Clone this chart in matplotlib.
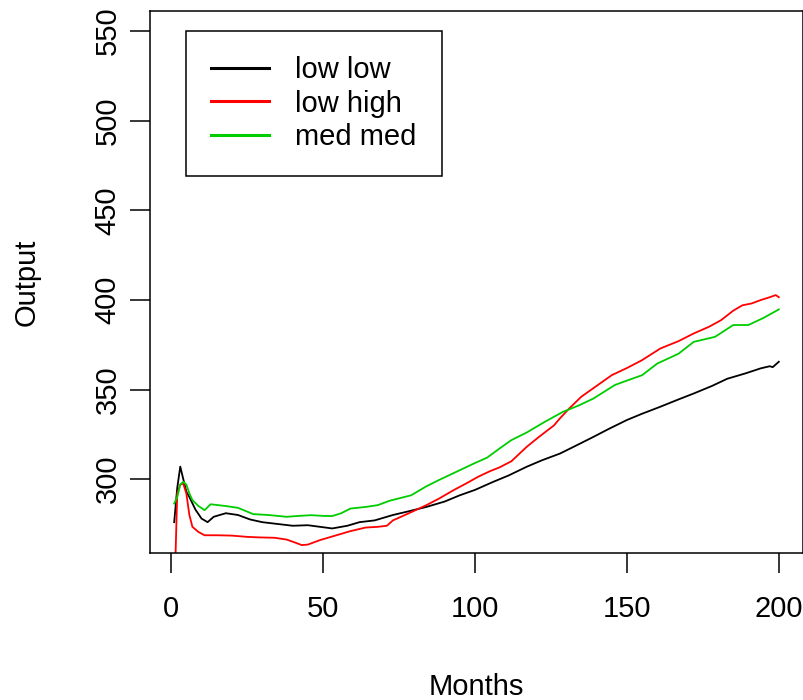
import matplotlib
matplotlib.use('Agg')
import matplotlib.pyplot as plt

plt.rcParams['font.family'] = ['Liberation Sans', 'DejaVu Sans']

# values (month, output)
low_low_month = [1, 2, 3, 4, 5, 6, 8, 10, 12, 14, 18, 22, 26, 30, 35, 40, 45, 49, 53,
                 58, 62, 67, 73, 78, 84, 90, 95, 100, 106, 111, 117, 122, 128, 133,
                 139, 144, 150, 155, 161, 167, 172, 178, 183, 189, 194, 197, 198, 200]
low_low = [276, 295, 307, 300, 293, 290, 283, 278, 276, 279, 281, 280, 277.5, 276,
           275, 274, 274.3, 273.4, 272.5, 274, 276, 277, 280, 282, 284.5, 287.5, 291,
           294, 298.5, 302, 306.9, 310.5, 314.3, 318.5, 323.6, 328, 333, 336.5, 340.4,
           344.5, 347.8, 352, 356, 359, 361.8, 363, 362.5, 365.5]

low_high_month = [1, 2, 3, 4, 5, 6, 7, 9, 11, 15, 20, 25, 29, 34, 38, 41, 43, 45, 49,
                  54, 59, 64, 68, 71, 73, 78, 84, 88, 93, 97, 101, 105, 108, 112, 117,
                  121, 126, 128, 131, 135, 140, 145, 150, 155, 161, 167, 172, 177, 181,
                  185, 188, 191, 194, 197, 199, 200]
low_high = [230, 292, 297, 297.5, 292, 280, 273.4, 270.5, 268.7, 268.7, 268.5, 267.8,
            267.5, 267.3, 266.3, 264.5, 263.2, 263.5, 266, 268.5, 271, 273, 273.4, 274,
            277, 280.8, 285.5, 289, 293.9, 297.5, 301.3, 304.5, 306.5, 310, 318, 323.5,
            330, 334, 339.4, 346, 352, 358, 362, 366.4, 372.9, 377, 381.3, 385, 388.7,
            394, 397, 398, 399.9, 401.5, 402.7, 401.5]

med_med_month = [1, 2, 3, 4, 5, 6, 7, 9, 11, 13, 18, 22, 27, 32, 38, 42, 46, 50, 53,
                 56, 59, 64, 68, 72, 79, 84, 88, 95, 100, 104, 108, 112, 117, 123, 129,
                 134, 139, 146, 150, 155, 160, 167, 172, 179, 185, 190, 195, 200]
med_med = [286.4, 290, 297, 298.5, 297, 292, 288.3, 285, 282.7, 286, 285, 284, 280.5,
           280, 279, 279.5, 279.9, 279.5, 279.4, 281, 283.6, 284.5, 285.5, 288, 291, 296,
           299.4, 305, 309, 312, 317, 321.8, 326, 332, 337.6, 341, 345, 352.5, 355, 358,
           364.5, 370, 376.6, 379.4, 386, 386, 390, 394.7]

series_names = ['low low', 'low high', 'med med']
series_colors = ['black', '#FF0000', '#00CD00']

fig = plt.figure(figsize=(8.04, 7.0), dpi=100)
ax = fig.add_axes([150 / 804, 1 - 553 / 700, 653 / 804, 542 / 700])

ax.plot(low_low_month, low_low, color=series_colors[0], lw=1.3, label=series_names[0])
ax.plot(low_high_month, low_high, color=series_colors[1], lw=1.3, label=series_names[1])
ax.plot(med_med_month, med_med, color=series_colors[2], lw=1.3, label=series_names[2])

ax.set_xlim(-6.96, 207.96)
ax.set_ylim(258.8, 561.2)
ax.set_xticks([0, 50, 100, 150, 200])
ax.set_yticks([300, 350, 400, 450, 500, 550])
ax.tick_params(axis='both', direction='out', length=14.4, width=1.1, labelsize=21)
ax.tick_params(axis='x', pad=16)
ax.tick_params(axis='y', pad=6)
for lab in ax.get_yticklabels():
    lab.set_rotation(90)
    lab.set_va('center')
for s in ax.spines.values():
    s.set_linewidth(1.1)

ax.set_xlabel('Months', fontsize=21)
ax.set_ylabel('Output', fontsize=21)
ax.xaxis.set_label_coords(0.5, -(673 - 553) / 542)
ax.yaxis.set_label_coords((41 - 150) / 653, 0.5)

leg = ax.legend(loc='upper left', bbox_to_anchor=(186 / 804, 1 - 31 / 700),
                bbox_transform=fig.transFigure, borderaxespad=0, fancybox=False,
                edgecolor='black', fontsize=21, handlelength=2.0, handletextpad=0.9,
                labelspacing=0.2, borderpad=0.85)
leg.get_frame().set_linewidth(1.1)
leg.get_frame().set_alpha(1)
for line in leg.get_lines():
    line.set_linewidth(2.2)

fig.savefig('out.png', dpi=100)
